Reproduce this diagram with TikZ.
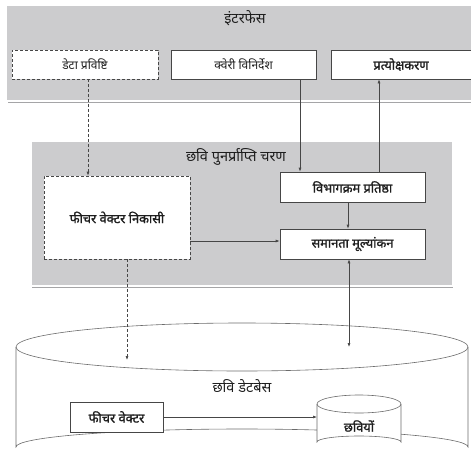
\documentclass[tikz,border=0pt]{standalone}
\usepackage{fontspec}
\usetikzlibrary{arrows.meta}
\newfontfamily\dev[Script=Devanagari]{Noto Sans}
\newfontfamily\devb[Script=Devanagari, FakeBold=1.3]{Noto Sans}
\definecolor{panelgray}{RGB}{204,204,206}
\definecolor{shadowgray}{RGB}{165,165,167}
\definecolor{linegray}{RGB}{70,70,70}
\definecolor{textgray}{RGB}{30,30,30}
\begin{document}
\begin{tikzpicture}[x=1pt,y=-1pt,
  box/.style={draw=linegray, fill=white, line width=0.6pt, inner sep=0pt, text=textgray,
    font=\devb\fontsize{12.8}{15}\selectfont},
  lightbox/.style={box, font=\dev\fontsize{12}{14}\selectfont},
  dbox/.style={box, dash pattern=on 3pt off 2pt},
  title/.style={font=\dev\fontsize{14.5}{17}\selectfont, inner sep=0pt, text=textgray},
  arr/.style={draw=linegray, line width=0.6pt, -{Latex[length=4pt,width=3pt]}},
  darr/.style={arr, dash pattern=on 3pt off 2pt},
  dblarr/.style={draw=linegray, line width=0.6pt, {Latex[length=4pt,width=3pt]}-{Latex[length=4pt,width=3pt]}},
  outline/.style={draw=linegray!80, line width=0.6pt}]
\useasboundingbox (0,0) rectangle (471,466);
% interface panel
\fill[panelgray] (7,6) rectangle (471,100);
\draw[white, line width=1pt] (7,100.5) -- (471,100.5);
\draw[shadowgray, line width=1.5pt] (8,102.5) -- (471,102.5);
\node[title] (ititle) at (245,18) {इंटरफेस};
\node[dbox, lightbox, minimum width=146pt, minimum height=29pt] (entry) at (85,64.5) {डेटा प्रविष्टि};
\node[lightbox, minimum width=145pt, minimum height=29pt] (query) at (243.5,64.5) {क्वेरी विनिर्देश};
\node[box, minimum width=140pt, minimum height=29pt] (vis) at (401,64.5) {प्रत्योक्षकरण};
% retrieval panel
\fill[panelgray] (32,142) rectangle (452,285);
\draw[white, line width=1pt] (32,285.5) -- (452.5,285.5) -- (452.5,142);
\draw[shadowgray, line width=1.5pt] (32,287.5) -- (453,287.5);
\node[title] (rtitle) at (236,157) {छवि पुनर्प्राप्ति चरण};
\node[dbox, minimum width=146pt, minimum height=83pt] (fve) at (117,217.5) {फीचर वेक्टर निकासी};
\node[box, minimum width=145pt, minimum height=30pt] (hier) at (352.5,187) {विभागक्रम प्रतिष्ठा};
\node[box, minimum width=145pt, minimum height=30pt] (sim) at (352.5,244) {समानता मूल्यांकन};
% database cylinder
\draw[outline] (16,347) -- (16,447) arc[start angle=180, end angle=360, x radius=226, y radius=18] -- (468,347);
\draw[outline] (242,347) ellipse[x radius=226, y radius=24];
\node[title] (dbtitle) at (242,386) {छवि डेटबेस};
\node[box, minimum width=93pt, minimum height=30pt] (fv) at (116.5,417) {फीचर वेक्टर};
% images cylinder
\draw[outline, fill=white] (317,404) -- (317,442) arc[start angle=180, end angle=360, x radius=42, y radius=6] -- (401,404);
\draw[outline] (359,404) ellipse[x radius=42, y radius=9];
\node[box, draw=none, fill=none] (imgs) at (359,426) {छवियों};
\coordinate (imgin) at (317,417);
\coordinate (dbin) at (349,347);
\coordinate (dbdash) at (127,360);
% connectors
\draw[darr] (entry.south -| 88,0) -- (fve.north -| 88,0);
\draw[arr] (query.south -| 300,0) -- (hier.north -| 300,0);
\draw[arr] (hier.north -| 379,0) -- (vis.south -| 379,0);
\draw[arr] (hier.south -| 348,0) -- (sim.north -| 348,0);
\draw[arr] (fve.east |- 0,241) -- (sim.west |- 0,241);
\draw[dblarr] (sim.south -| 349,0) -- (dbin);
\draw[darr] (fve.south -| 127,0) -- (dbdash);
\draw[arr] (fv.east) -- (imgin);
\end{tikzpicture}
\end{document}
